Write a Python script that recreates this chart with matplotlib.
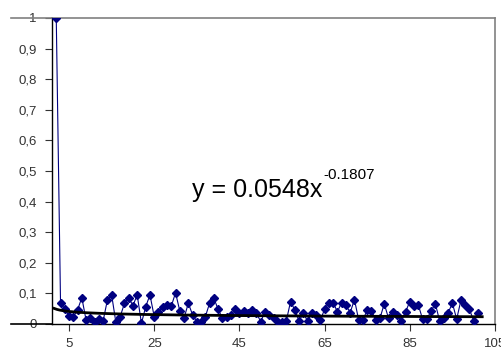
import matplotlib
matplotlib.use("Agg")
import matplotlib.pyplot as plt
import numpy as np

plt.rcParams['font.family'] = ['Liberation Sans', 'DejaVu Sans']

x_vals = list(range(2, 102))
y_vals = [1.0,
    0.07, 0.048, 0.026, 0.024, 0.046, 0.086, 0.013, 0.018, 0.005, 0.017, 0.01, 0.078, 0.095,
    0.005, 0.024, 0.067, 0.086, 0.06, 0.095, 0.002, 0.057, 0.095, 0.024, 0.04, 0.057, 0.062,
    0.058, 0.102, 0.043, 0.019, 0.068, 0.03, 0.008, 0.008, 0.024, 0.068, 0.084, 0.048, 0.019,
    0.024, 0.03, 0.048, 0.037, 0.043, 0.037, 0.046, 0.035, 0.008, 0.04, 0.03, 0.019, 0.008,
    0.008, 0.01, 0.073, 0.046, 0.01, 0.035, 0.01, 0.035, 0.03, 0.013, 0.048, 0.07, 0.07,
    0.04, 0.07, 0.062, 0.037, 0.08, 0.013, 0.013, 0.046, 0.043, 0.013, 0.019, 0.066, 0.019,
    0.04, 0.03, 0.01, 0.04, 0.073, 0.058, 0.062, 0.016, 0.016, 0.043, 0.066, 0.01, 0.019,
    0.037, 0.068, 0.016, 0.077, 0.062, 0.048, 0.01, 0.035]

trend_a = 0.0548
trend_b = -0.1807
x_ticks = [5, 25, 45, 65, 85, 105]
y_ticks = [0, 0.1, 0.2, 0.3, 0.4, 0.5, 0.6, 0.7, 0.8, 0.9, 1]
y_tick_labels = ['0', '0,1', '0,2', '0,3', '0,4', '0,5', '0,6', '0,7', '0,8', '0,9', '1']
eq_main = 'y = 0.0548x'
eq_exp = '-0.1807'

fig = plt.figure(figsize=(5.01, 3.49), dpi=100)
ax = fig.add_axes([52/501, 1-324/349, 443/501, 306/349])

ax.plot(x_vals, y_vals, color='#000080', lw=0.8, marker='D', ms=4.4,
        markerfacecolor='#000080', markeredgecolor='#000080', zorder=3)

xt = np.linspace(1.5, 102, 300)
ax.plot(xt, trend_a * xt ** trend_b, color='black', lw=2, zorder=4)

ax.set_xlim(1, 105)
ax.set_ylim(0, 1)
ax.set_xticks(x_ticks)
ax.set_xticklabels([str(v) for v in x_ticks])
ax.set_yticks(y_ticks)
ax.set_yticklabels(y_tick_labels)
ax.tick_params(axis='both', direction='out', length=5, width=0.8, labelsize=9.5,
               labelcolor='#333333', color='#333333')
ax.tick_params(axis='y', pad=6)
ax.tick_params(axis='x', pad=5)

for s in ['top', 'right']:
    ax.spines[s].set_color('#808080')
    ax.spines[s].set_linewidth(1.2)
for s in ['left', 'bottom']:
    ax.spines[s].set_color('black')
    ax.spines[s].set_linewidth(1.0)

# extensions of horizontal lines to the left
ax.plot([-41/443, 0], [1, 1], transform=ax.transAxes, color='#808080', lw=1.2, clip_on=False)
ax.plot([-41/443, 0], [0, 0], transform=ax.transAxes, color='black', lw=1.2, clip_on=False)

t_main = ax.text(33.9, 0.415, eq_main, fontsize=18, color='black',
                 ha='left', va='baseline')
fig.canvas.draw()
bb = t_main.get_window_extent(renderer=fig.canvas.get_renderer())
ax.annotate(eq_exp, xy=(bb.x1, 0), xycoords=('figure pixels', 'data'),
            xytext=(0.5, 0.474), textcoords=('offset points', 'data'),
            fontsize=11, color='black', ha='left', va='baseline')

fig.savefig('out.png', dpi=100)
